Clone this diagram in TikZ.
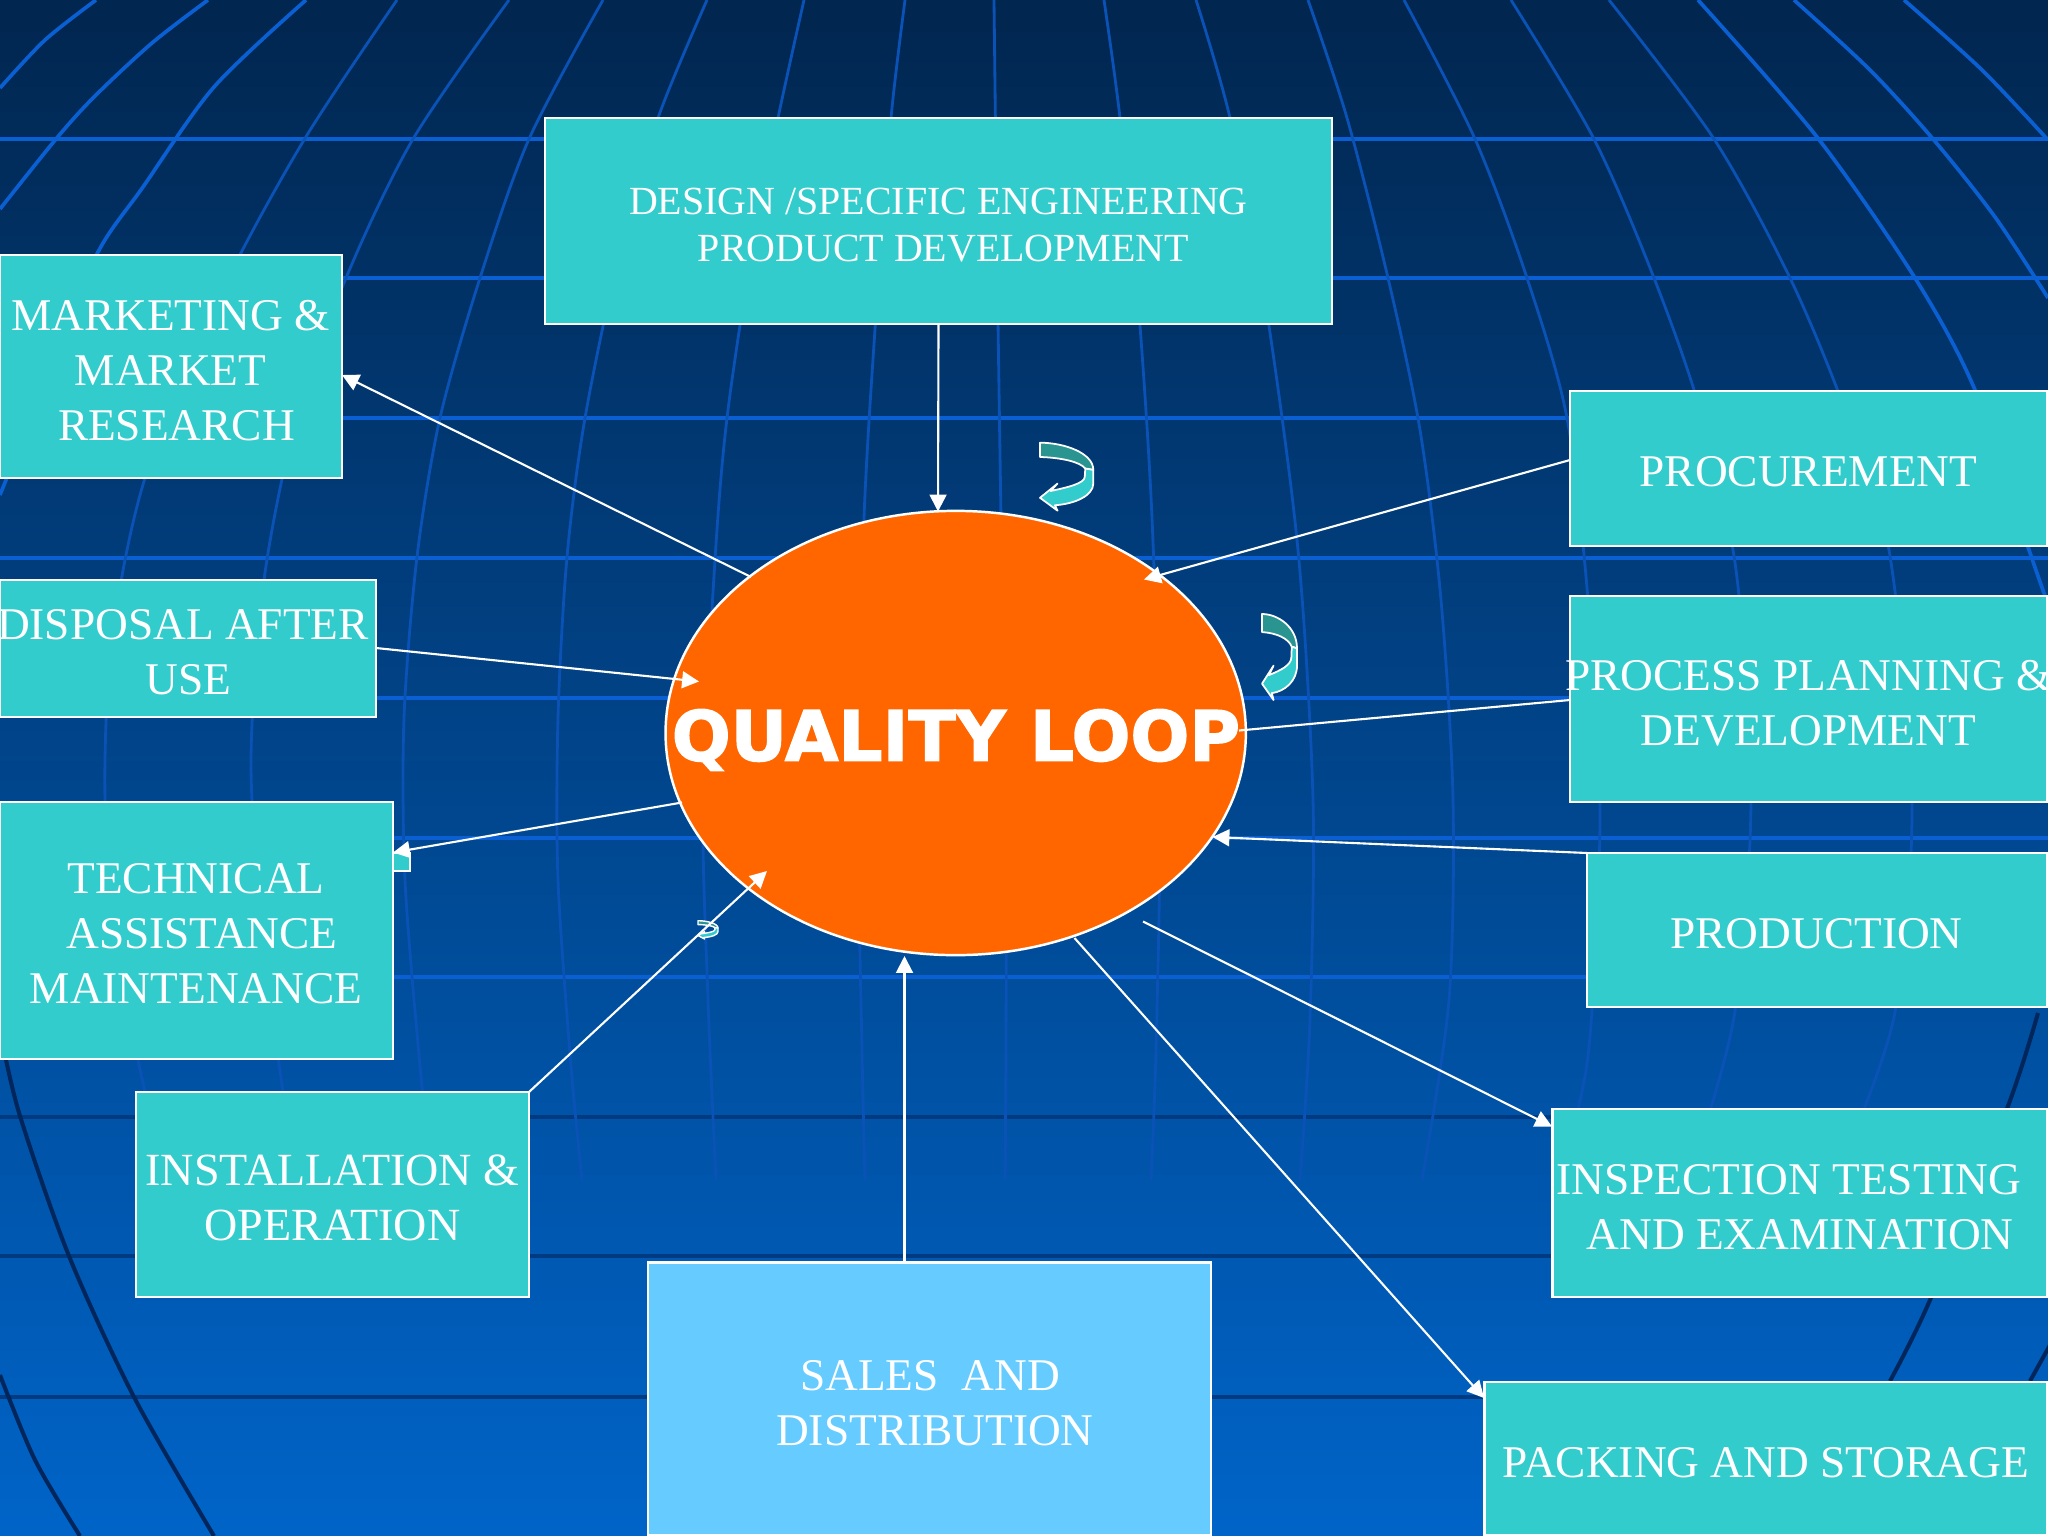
\documentclass[tikz,border=0pt]{standalone}
\usepackage{fontspec}
\setmainfont{Liberation Serif}
\newfontfamily\loopfont[BoldFeatures={FakeBold=2}]{DejaVu Sans}
\usetikzlibrary{arrows.meta,shapes.geometric}
\definecolor{boxteal}{HTML}{33CCCC}
\definecolor{boxsky}{HTML}{66CCFF}
\definecolor{loopor}{HTML}{FF6600}
\definecolor{turndark}{HTML}{2A9590}
\definecolor{gridbright}{HTML}{0A60D2}
\definecolor{gridthin}{HTML}{0A52B6}
\definecolor{griddark}{HTML}{003A80}
\definecolor{outerdark}{HTML}{00265C}
\definecolor{bgtop}{HTML}{01264F}
\definecolor{bgmid}{HTML}{004A98}
\definecolor{bgbot}{HTML}{0064C8}
\tikzset{
  x=0.01cm,y=-0.01cm,
  gridh/.style={gridbright,line width=1.1pt},
  gridlow/.style={griddark,line width=1.1pt},
  meridthin/.style={gridthin,line width=0.8pt},
  meridthick/.style={gridbright,line width=1.05pt},
  outerline/.style={outerdark,line width=1.15pt},
  panel/.style={rectangle,draw=white,line width=0.7pt,fill=boxteal,inner sep=0pt,outer sep=0pt},
  panelsky/.style={panel,fill=boxsky},
  caption/.style={text=white,align=center,inner sep=0pt,font=\fontsize{12.9}{15.6}\selectfont},
  captionsmall/.style={caption,font=\fontsize{11.35}{13.4}\selectfont},
  captionwide/.style={caption,font=\fontsize{13.1}{15.6}\selectfont},
  link/.style={white,line width=0.6pt},
  linkhead/.style={link,-{Triangle[length=4.8pt,width=4.8pt]}},
  turnarrow/.pic={
    \draw[white,line width=\pgfkeysvalueof{/tikz/turnlw},fill=turndark,line join=round]
      (0,0) .. controls (45,0) and (100,15) .. (100,40) -- (85,38)
      .. controls (75,28) and (40,22) .. (0,21) -- cycle;
    \draw[white,line width=\pgfkeysvalueof{/tikz/turnlw},fill=boxteal,line join=round]
      (85,38) -- (100,40) -- (100,60) .. controls (100,78) and (65,90) .. (28,92)
      -- (33,100) -- (0,81) -- (33,60) -- (20,71)
      .. controls (50,66) and (84,60) .. (84,50) -- cycle;
  },
  turnlw/.initial=0.5pt
}
\newcommand{\tealbox}[6]{\node[#1,minimum width=#5*0.01cm,minimum height=#6*0.01cm] (#2) at (#3,#4) {};}
\begin{document}
\begin{tikzpicture}
\useasboundingbox (0,0) rectangle (2048,1536);
\begin{scope}
\clip (0,0) rectangle (2048,1536);
\shade[top color=bgtop,middle color=bgmid,bottom color=bgbot] (0,0) rectangle (2048,1536);
% latitude lines
\foreach \yy in {139,278,418,558,698,838,977} \draw[gridh] (0,\yy) -- (2048,\yy);
\foreach \yy in {1117,1256,1397} \draw[gridlow] (0,\yy) -- (2048,\yy);
% meridians, left side
\draw[meridthick] plot[smooth,tension=.5] coordinates {(96,0) (45,40) (0,88)};
\draw[meridthick] plot[smooth,tension=.5] coordinates {(208,0) (152,43) (94,97) (56,139) (0,209)};
\draw[meridthick] plot[smooth,tension=.5] coordinates {(306,0) (214,87) (143,187) (97,254) (50,370) (0,495)};
\draw[meridthin] plot[smooth,tension=.5] coordinates {(397,0) (304,140) (220,295) (145,478) (112,640) (105,800) (118,960) (145,1092) (165,1180)};
\draw[meridthin] plot[smooth,tension=.5] coordinates {(509,0) (413,139) (346,278) (296,420) (264,580) (251,760) (262,930) (283,1092) (298,1180)};
\draw[meridthin] plot[smooth,tension=.5] coordinates {(603,0) (529,139) (480,278) (440,418) (417,557) (404,718) (405,880) (420,1066) (432,1180)};
\draw[meridthin] plot[smooth,tension=.5] coordinates {(707,0) (658,118) (620,250) (585,418) (567,557) (558,718) (558,880) (571,1066) (582,1180)};
\draw[meridthin] plot[smooth,tension=.5] coordinates {(804,0) (778,118) (752,250) (727,418) (715,560) (703,800) (708,1000) (716,1180)};
\draw[meridthin] plot[smooth,tension=.5] coordinates {(905,0) (891,118) (877,300) (864,518) (858,800) (862,1050) (865,1180)};
\draw[meridthin] plot[smooth,tension=.5] coordinates {(994,0) (997,250) (1001,518) (1006,800) (1006,1050) (1005,1180)};
\draw[meridthin] plot[smooth,tension=.5] coordinates {(1104,0) (1120,118) (1138,300) (1152,518) (1160,800) (1156,1050) (1151,1180)};
\draw[meridthin] plot[smooth,tension=.5] coordinates {(1196,0) (1230,118) (1265,300) (1298,550) (1313,800) (1310,1020) (1300,1180)};
\draw[meridthin] plot[smooth,tension=.5] coordinates {(1308,0) (1347,118) (1388,278) (1420,430) (1441,600) (1453,800) (1449,1000) (1422,1180)};
\draw[meridthin] plot[smooth,tension=.5] coordinates {(1404,0) (1475,139) (1527,278) (1567,418) (1588,600) (1600,815) (1588,1056) (1558,1180)};
\draw[meridthin] plot[smooth,tension=.5] coordinates {(1511,0) (1594,139) (1654,278) (1700,410) (1736,570) (1751,800) (1734,1017) (1688,1180)};
\draw[meridthin] plot[smooth,tension=.5] coordinates {(1609,0) (1714,139) (1790,278) (1845,410) (1889,550) (1912,800) (1894,1017) (1835,1180)};
\draw[meridthick] plot[smooth,tension=.5] coordinates {(1698,0) (1817,137) (1915,278) (1975,390) (2029,550) (2050,610)};
\draw[meridthick] plot[smooth,tension=.5] coordinates {(1794,0) (1870,70) (1933,139) (1995,217) (2048,298)};
\draw[meridthick] plot[smooth,tension=.5] coordinates {(1904,0) (1982,70) (2048,140)};
% outer dark meridians
\draw[outerline] plot[smooth,tension=.5] coordinates {(2,1040) (20,1116) (69,1256) (134,1397) (214,1536)};
\draw[outerline] plot[smooth,tension=.5] coordinates {(0,1375) (35,1460) (80,1536)};
\draw[outerline] plot[smooth,tension=.5] coordinates {(2038,1013) (2008,1106) (1930,1300) (1890,1381)};
\draw[outerline] plot[smooth,tension=.5] coordinates {(2050,1345) (2030,1381)};
\end{scope}
% panels
\tealbox{panel}{design}{938.5}{221}{787}{206}
\tealbox{panel}{marketing}{171}{366.5}{342}{223}
\tealbox{panel}{disposal}{188}{648.5}{376}{137}
\tealbox{panel}{tab}{401.5}{862}{17}{18.5}
\tealbox{panel}{technical}{196.5}{930.5}{393}{257}
\tealbox{panel}{install}{332.5}{1194.5}{393}{205}
\tealbox{panelsky}{sales}{929.5}{1399}{563}{273}
\tealbox{panel}{packing}{1766}{1458.5}{563}{153}
\tealbox{panel}{inspection}{1800}{1203}{495}{188}
\tealbox{panel}{production}{1817}{930}{460}{154}
\tealbox{panel}{process}{1808.5}{699}{477}{205.5}
\tealbox{panel}{procurement}{1808.5}{468.5}{477}{155}
% central ellipse
\node[ellipse,draw=white,line width=0.7pt,fill=loopor,inner sep=0pt,outer sep=0pt,minimum width=5.8cm,minimum height=4.44cm] (loop) at (955.7,733) {};
\node[text=white,inner sep=0pt,font=\loopfont\bfseries\fontsize{19.7}{20}\selectfont] (looptext) at (956,740) {QUALITY LOOP};
% curved arrows
\pic[xscale=.533,yscale=.68] (turna) at (1040,442.7) {turnarrow};
\pic[xscale=.35,yscale=.86] (turnb) at (1262,614) {turnarrow};
\pic[xscale=.2,yscale=.183,turnlw=0.4pt] (turnc) at (698,920.7) {turnarrow};
% free connector ends
\coordinate (d1) at (938,511.5);
\coordinate (s2) at (751,577);
\coordinate (e2) at (342,375);
\coordinate (s3) at (376,648);
\coordinate (e3) at (699,681.5);
\coordinate (s4) at (682,802.5);
\coordinate (e4) at (393,852.5);
\coordinate (s5) at (529,1092);
\coordinate (e5) at (767,871);
\coordinate (s6) at (904.5,1262.5);
\coordinate (e6) at (904.5,956);
\coordinate (s7) at (1074.5,938);
\coordinate (e7) at (1484,1398);
\coordinate (s8) at (1143,921.5);
\coordinate (e8) at (1552,1126.5);
\coordinate (s9) at (1587,853);
\coordinate (e9) at (1212.5,837);
\coordinate (s10) at (1570,700);
\coordinate (e10) at (1239,730.5);
\coordinate (s11) at (1570,460);
\coordinate (e11) at (1144,579.5);
% connectors
\draw[linkhead] (design.south) -- (d1);
\draw[linkhead] (s2) -- (e2);
\draw[linkhead] (s3) -- (e3);
\draw[linkhead] (s4) -- (e4);
\draw[linkhead] (s5) -- (e5);
\draw[linkhead] (s6) -- (e6);
\draw[linkhead] (s7) -- (e7);
\draw[linkhead] (s8) -- (e8);
\draw[linkhead] (s9) -- (e9);
\draw[link] (s10) -- (e10);
\draw[linkhead] (s11) -- (e11);
% captions
\node[captionsmall] (tdesign) at (938.5,225) {DESIGN /SPECIFIC ENGINEERING\\\hspace*{2.8pt}PRODUCT DEVELOPMENT};
\node[caption] (tmarketing) at (170.5,370.5) {MARKETING \&\\MARKET\\\hspace*{3.4pt}RESEARCH};
\node[caption] (tdisposal) at (183,652.5) {DISPOSAL AFTER\\\hspace*{3.1pt}USE};
\node[caption] (ttechnical) at (196,933.5) {TECHNICAL\\\hspace*{3.4pt}ASSISTANCE\\MAINTENANCE};
\node[captionwide] (tinstall) at (332.5,1198) {INSTALLATION \&\\OPERATION};
\node[caption] (tsales) at (935,1403) {SALES\ \ AND\hspace*{2.8pt}\\DISTRIBUTION};
\node[caption] (tpacking) at (1765.5,1463) {PACKING AND STORAGE};
\node[caption] (tinspection) at (1789,1207) {INSPECTION TESTING\\\hspace*{6.3pt}AND EXAMINATION};
\node[caption] (tproduction) at (1816.5,934) {PRODUCTION};
\node[caption] (tprocess) at (1808.5,703.5) {PROCESS PLANNING \&\\DEVELOPMENT};
\node[caption] (tprocurement) at (1808.5,472) {PROCUREMENT};
\end{tikzpicture}
\end{document}
